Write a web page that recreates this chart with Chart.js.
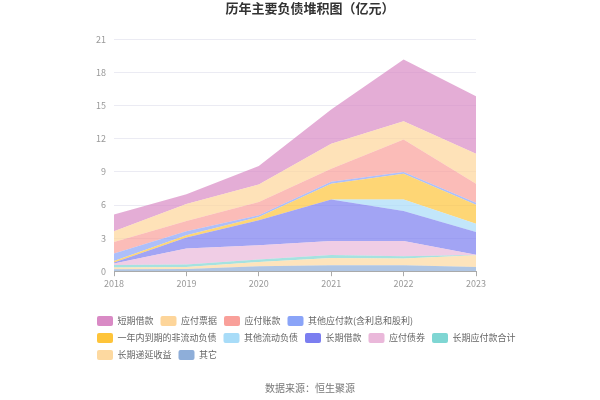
<!DOCTYPE html>
<html>
<head>
<meta charset="utf-8">
<script src="https://cdn.jsdelivr.net/npm/chart.js@4/dist/chart.umd.min.js"></script>
<style>
html,body{margin:0;padding:0;background:#fff;}
#wrap{width:600px;height:400px;position:relative;}
</style>
</head>
<body>
<div id="wrap"><canvas id="c" width="600" height="400"></canvas></div>
<script>
const years = ['2018','2019','2020','2021','2022','2023'];
const yTicks = [0,3,6,9,12,15,18,21];

// stacking order: bottom first
const qita        = [0.18, 0.20, 0.45, 0.54, 0.54, 0.39]; // 其它
const changqiDiyan= [0.15, 0.19, 0.39, 0.66, 0.61, 1.06]; // 长期递延收益
const changqiYingfu=[0.24, 0.21, 0.22, 0.28, 0.21, 0.02]; // 长期应付款合计
const yingfuZhaiquan=[0.13, 1.45, 1.29, 1.26, 1.38, 0.02]; // 应付债券
const changqiJiekuan=[0.10, 1.00, 2.27, 3.75, 2.72, 2.07]; // 长期借款
const qitaLiudong = [0.00, 0.00, 0.00, 0.02, 1.03, 0.75]; // 其他流动负债
const yinianDaoqi = [0.13, 0.21, 0.30, 1.43, 2.35, 1.72]; // 一年内到期的非流动负债
const qitaYingfu  = [0.67, 0.36, 0.15, 0.16, 0.15, 0.17]; // 其他应付款(含利息和股利)
const yingfuZhangkuan=[1.05, 0.93, 1.20, 1.19, 2.96, 1.74]; // 应付账款
const yingfuPiaoju= [0.97, 1.54, 1.60, 2.26, 1.65, 2.71]; // 应付票据
const duanqiJiekuan=[1.51, 0.88, 1.66, 3.11, 5.59, 5.22]; // 短期借款

const series = [
  ['其它', qita, [142,174,217]],
  ['长期递延收益', changqiDiyan, [253,217,160]],
  ['长期应付款合计', changqiYingfu, [127,214,211]],
  ['应付债券', yingfuZhaiquan, [234,184,218]],
  ['长期借款', changqiJiekuan, [123,126,240]],
  ['其他流动负债', qitaLiudong, [168,220,248]],
  ['一年内到期的非流动负债', yinianDaoqi, [254,196,58]],
  ['其他应付款(含利息和股利)', qitaYingfu, [138,164,248]],
  ['应付账款', yingfuZhangkuan, [249,160,154]],
  ['应付票据', yingfuPiaoju, [253,213,154]],
  ['短期借款', duanqiJiekuan, [217,138,197]]
];

const rgba = (c,a)=>`rgba(${c[0]},${c[1]},${c[2]},${a})`;

const datasets = series.map((s,i)=>({
  label: s[0],
  data: s[1],
  fill: i===0 ? 'origin' : '-1',
  backgroundColor: rgba(s[2],0.7),
  borderColor: rgba(s[2],0.7),
  borderWidth: 0,
  pointRadius: 0,
  pointHoverRadius: 0,
  tension: 0,
  _solid: rgba(s[2],1)
}));

const FONT = '"Noto Sans CJK SC", "Noto Sans", sans-serif';

new Chart(document.getElementById('c'), {
  type: 'line',
  data: { labels: years, datasets },
  options: {
    responsive: false,
    animation: false,
    layout: { padding: { left: 90, right: 70, top: 0, bottom: 4 } },
    plugins: {
      title: {
        display: true,
        text: '历年主要负债堆积图（亿元）',
        color: '#333',
        font: { family: FONT, size: 13, weight: 'bold' },
        padding: { top: 0, bottom: 24 }
      },
      subtitle: {
        display: true,
        position: 'bottom',
        text: '数据来源：恒生聚源',
        color: '#777',
        font: { family: FONT, size: 10 },
        padding: { top: 12, bottom: 2 }
      },
      legend: {
        position: 'bottom',
        align: 'start',
        labels: {
          boxWidth: 16,
          boxHeight: 10,
          padding: 7,
          color: '#666',
          font: { family: FONT, size: 9 },
          useBorderRadius: true,
          borderRadius: 2,
          sort: (a,b)=>b.datasetIndex-a.datasetIndex,
          generateLabels: (chart)=>{
            const items = Chart.defaults.plugins.legend.labels.generateLabels(chart);
            items.forEach(it=>{
              const ds = chart.data.datasets[it.datasetIndex];
              it.fillStyle = ds._solid;
              it.strokeStyle = ds._solid;
              it.lineWidth = 0;
            });
            return items;
          }
        }
      },
      tooltip: { enabled: false }
    },
    scales: {
      x: {
        offset: false,
        grid: { drawOnChartArea: false, drawTicks: true, tickLength: 5, color: '#aaa' },
        border: { display: true, color: '#aaa' },
        ticks: { color: '#999', font: { family: FONT, size: 9 }, padding: 2, maxRotation: 0 },
        afterFit: (s)=>{ s.paddingRight = 124; s.height = s.height + 18; }
      },
      y: {
        stacked: true,
        min: 0,
        max: 21,
        afterBuildTicks: (s)=>{ s.ticks = yTicks.map(v=>({value:v})); },
        grid: { color: '#ebebf3', drawTicks: false },
        border: { display: false },
        ticks: { color: '#999', font: { family: FONT, size: 9 }, padding: 8 },
        afterFit: (s)=>{ s.width = 24; }
      }
    }
  }
});
</script>
</body>
</html>
